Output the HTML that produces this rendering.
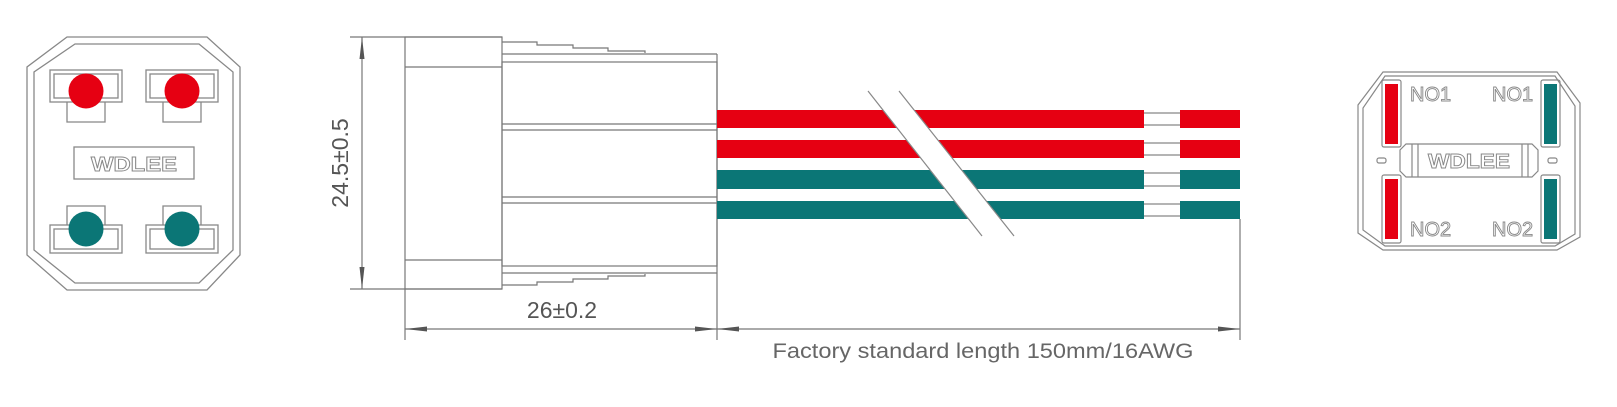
<!DOCTYPE html>
<html><head><meta charset="utf-8"><style>
html,body{margin:0;padding:0;background:#fff;}
svg{display:block;}
text{font-family:"Liberation Sans",sans-serif;}
</style></head><body>
<svg width="1617" height="407" viewBox="0 0 1617 407" xmlns="http://www.w3.org/2000/svg">
<defs>
<marker id="ar" viewBox="0 0 22 8" refX="22" refY="4" markerWidth="22" markerHeight="8" markerUnits="userSpaceOnUse" orient="auto-start-reverse"><path d="M0,1.5 L22,4 L0,6.5 Z" fill="#555"/></marker>
</defs>
<g fill="none" stroke="#888" stroke-width="1.3">
<path d="M67,37 L207,37 L240,67 L240,255 L207,290 L67,290 L27,255 L27,67 Z"/>
<path d="M75,44 L199,44 L233,72 L233,250 L199,283 L75,283 L34,250 L34,72 Z"/>
<rect x="50" y="70" width="72" height="32"/><rect x="54" y="74" width="64" height="24"/>
<path d="M67,102 L67,122 L105,122 L105,102"/>
<rect x="146" y="70" width="72" height="32"/><rect x="150" y="74" width="64" height="24"/>
<path d="M163,102 L163,122 L201,122 L201,102"/>
<rect x="50" y="225" width="72" height="28"/><rect x="54" y="229" width="64" height="20"/>
<path d="M67,225 L67,206 L105,206 L105,225"/>
<rect x="146" y="225" width="72" height="28"/><rect x="150" y="229" width="64" height="20"/>
<path d="M163,225 L163,206 L201,206 L201,225"/>
<rect x="74" y="147" width="120" height="32"/>
</g>
<circle cx="86" cy="91" r="17.5" fill="#e60012"/>
<circle cx="182" cy="91" r="17.5" fill="#e60012"/>
<circle cx="86" cy="229" r="17.5" fill="#0b7676"/>
<circle cx="182" cy="229" r="17.5" fill="#0b7676"/>
<text x="134" y="171" text-anchor="middle" font-size="20" font-weight="bold" fill="#fff" stroke="#888" stroke-width="0.9" textLength="86" lengthAdjust="spacingAndGlyphs">WDLEE</text>

<g fill="none" stroke="#777" stroke-width="1.2">
<line x1="350" y1="37" x2="502" y2="37"/>
<line x1="350" y1="289" x2="502" y2="289"/>
<line x1="362" y1="37" x2="362" y2="289" marker-start="url(#ar)" marker-end="url(#ar)"/>
<rect x="405" y="37" width="97" height="252"/>
<line x1="405" y1="67" x2="502" y2="67"/>
<line x1="405" y1="260" x2="502" y2="260"/>
<path d="M502,42 L537,42 L537,45 L573,45 L573,48 L608,48 L608,51 L645,51 L645,53"/>
<line x1="502" y1="54" x2="717" y2="54"/>
<rect x="502" y="62" width="215" height="204"/>
<line x1="502" y1="124" x2="717" y2="124"/>
<line x1="502" y1="130" x2="717" y2="130"/>
<line x1="502" y1="197" x2="717" y2="197"/>
<line x1="502" y1="203" x2="717" y2="203"/>
<line x1="502" y1="273" x2="717" y2="273"/>
<path d="M502,285 L537,285 L537,282 L573,282 L573,279 L608,279 L608,276 L645,276 L645,274"/>
<line x1="405" y1="289" x2="405" y2="340"/>
<line x1="717" y1="54" x2="717" y2="340"/>
<line x1="405" y1="329" x2="717" y2="329" marker-start="url(#ar)" marker-end="url(#ar)"/>
<line x1="1240" y1="219" x2="1240" y2="340"/>
<line x1="717" y1="329" x2="1240" y2="329" marker-start="url(#ar)" marker-end="url(#ar)"/>
</g>
<text x="562" y="318" text-anchor="middle" font-size="23" fill="#555">26±0.2</text>
<text transform="translate(348,163) rotate(-90)" text-anchor="middle" font-size="23" fill="#555">24.5±0.5</text>

<rect x="717" y="110" width="427" height="18" fill="#e60012"/>
<rect x="717" y="140" width="427" height="18" fill="#e60012"/>
<rect x="717" y="170" width="427" height="19" fill="#0b7676"/>
<rect x="717" y="201" width="427" height="18" fill="#0b7676"/>
<rect x="1180" y="110" width="60" height="18" fill="#e60012"/>
<rect x="1180" y="140" width="60" height="18" fill="#e60012"/>
<rect x="1180" y="170" width="60" height="19" fill="#0b7676"/>
<rect x="1180" y="201" width="60" height="18" fill="#0b7676"/>
<g stroke="#888" stroke-width="1.2">
<line x1="1144" y1="113" x2="1180" y2="113"/><line x1="1144" y1="125" x2="1180" y2="125"/>
<line x1="1144" y1="143" x2="1180" y2="143"/><line x1="1144" y1="155" x2="1180" y2="155"/>
<line x1="1144" y1="173" x2="1180" y2="173"/><line x1="1144" y1="186" x2="1180" y2="186"/>
<line x1="1144" y1="204" x2="1180" y2="204"/><line x1="1144" y1="216" x2="1180" y2="216"/>
</g>
<polygon points="868,91 899,91 1014,236 982,236" fill="#fff"/>
<g stroke="#888" stroke-width="1.2">
<line x1="868" y1="91" x2="982" y2="236"/>
<line x1="899" y1="91" x2="1014" y2="236"/>
</g>
<text x="983" y="358" text-anchor="middle" font-size="21" fill="#666" textLength="421" lengthAdjust="spacingAndGlyphs">Factory standard length 150mm/16AWG</text>

<g fill="none" stroke="#888" stroke-width="1.2">
<path d="M1383,72 L1557,72 L1580,103 L1580,237 L1557,250 L1383,250 L1358,233 L1358,105 Z"/>
<path d="M1385,76 L1555,76 L1575,106 L1575,234 L1555,246 L1385,246 L1363,230 L1363,108 Z"/>
<rect x="1382" y="80" width="19" height="67" rx="2"/>
<rect x="1382" y="175" width="19" height="68" rx="2"/>
<rect x="1541" y="80" width="19" height="67" rx="2"/>
<rect x="1541" y="175" width="19" height="68" rx="2"/>
<path d="M1406,144 L1532,144 L1538,150 L1538,171 L1532,177 L1406,177 L1400,171 L1400,150 Z"/>
<line x1="1412" y1="144" x2="1412" y2="177"/><line x1="1418" y1="144" x2="1418" y2="177"/>
<line x1="1522" y1="144" x2="1522" y2="177"/><line x1="1528" y1="144" x2="1528" y2="177"/>
<rect x="1377" y="158" width="9" height="5" rx="2"/>
<rect x="1548" y="158" width="9" height="5" rx="2"/>
</g>
<rect x="1385" y="84" width="13" height="60" fill="#e60012"/>
<rect x="1385" y="179" width="13" height="60" fill="#e60012"/>
<rect x="1544" y="84" width="13" height="60" fill="#0b7676"/>
<rect x="1544" y="179" width="13" height="60" fill="#0b7676"/>
<g font-size="20" fill="#fff" stroke="#888" stroke-width="0.9">
<text x="1410" y="101">NO1</text>
<text x="1492" y="101">NO1</text>
<text x="1410" y="236">NO2</text>
<text x="1492" y="236">NO2</text>
<text x="1469" y="168" text-anchor="middle" font-weight="bold" textLength="82" lengthAdjust="spacingAndGlyphs">WDLEE</text>
</g>
</svg>
</body></html>
